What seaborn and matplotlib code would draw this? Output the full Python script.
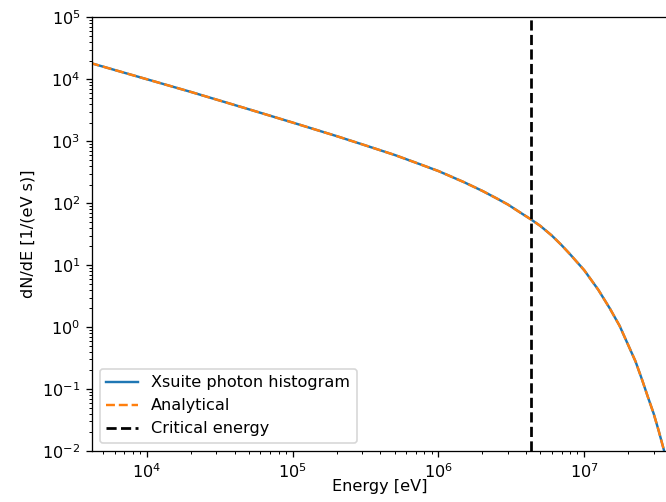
import matplotlib
matplotlib.use("Agg")
import matplotlib.pyplot as plt
import seaborn as sns
import pandas as pd

# values (log-log spectrum)
energy_ev = [4.1e3, 1.0e4, 2.0e4, 5.0e4, 1.0e5, 2.0e5, 3.0e5, 5.0e5, 7.0e5, 1.0e6,
             1.5e6, 2.0e6, 2.5e6, 3.0e6, 3.5e6, 4.3e6, 5.0e6, 6.0e6, 7.0e6, 8.0e6,
             1.0e7, 1.25e7, 1.5e7, 1.75e7, 2.0e7, 2.25e7, 2.5e7, 2.75e7, 3.0e7,
             3.25e7, 3.5e7, 3.75e7, 4.0e7]
hist_dnde = [1.83e4, 1.0e4, 6.25e3, 3.28e3, 2.0e3, 1.21e3, 890, 601, 450, 330,
             218, 158, 120, 95, 75, 55, 43, 30, 21, 15,
             8.3, 4.0, 2.0, 1.05, 0.52, 0.28, 0.14, 0.072, 0.040,
             0.021, 0.011, 0.006, 0.0033]
analytical_dnde = [1.83e4, 1.0e4, 6.25e3, 3.28e3, 2.0e3, 1.21e3, 890, 601, 450, 330,
                   218, 158, 120, 95, 75, 55, 43, 30, 21, 15,
                   8.3, 4.0, 2.0, 1.05, 0.52, 0.28, 0.14, 0.072, 0.040,
                   0.021, 0.011, 0.006, 0.0033]
critical_energy = 4.3e6

df = pd.DataFrame({"E": energy_ev, "hist": hist_dnde, "ana": analytical_dnde})

fig = plt.figure(figsize=(666 / 116, 502 / 116), dpi=116)
ax = fig.add_axes([91.7 / 666, 1 - 451 / 502, 1.004 - 91.7 / 666, (451 - 17.3) / 502])

sns.lineplot(data=df, x="E", y="hist", color="C0", label="Xsuite photon histogram", ax=ax)
sns.lineplot(data=df, x="E", y="ana", color="C1", linestyle="--", label="Analytical", ax=ax)
ax.axvline(critical_energy, color="k", linestyle="--", linewidth=1.7, label="Critical energy")

ax.set_xscale("log")
ax.set_yscale("log")
ax.set_xlim(4.18e3, 3.8e7)
ax.set_ylim(1e-2, 1e5)
ax.set_xlabel("Energy [eV]", labelpad=-1)
ax.set_ylabel("dN/dE [1/(eV s)]")
ax.legend(loc="lower left")

plt.savefig("out.png", dpi=116)
